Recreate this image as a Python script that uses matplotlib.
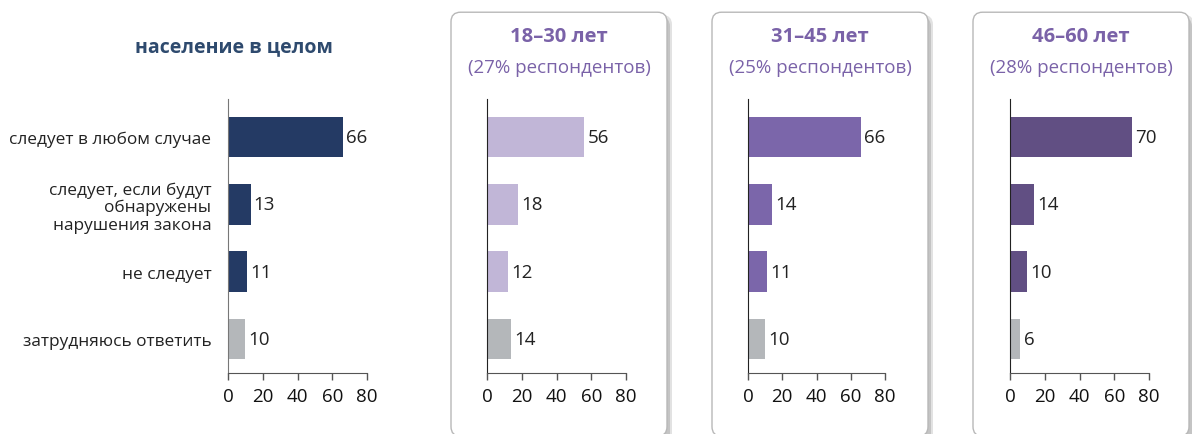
import matplotlib.pyplot as plt
from matplotlib.patches import FancyBboxPatch

plt.rcParams['font.family'] = ['Open Sans', 'DejaVu Sans']

categories = ['следует в любом случае',
              'следует, если будут\nобнаружены\nнарушения закона',
              'не следует',
              'затрудняюсь ответить']
total = [66, 13, 11, 10]
age_18_30 = [56, 18, 12, 14]
age_31_45 = [66, 14, 11, 10]
age_46_60 = [70, 14, 10, 6]

panel_titles = ['население в целом', '18–30 лет', '31–45 лет', '46–60 лет']
panel_shares = [None, '(27% респондентов)', '(25% респондентов)', '(28% респондентов)']
ticks = [0, 20, 40, 60, 80]

main_colors = ['#243a64', '#c1b6d7', '#7b66aa', '#614f83']
gray = '#b4b7ba'

W, H = 1192, 435
fig = plt.figure(figsize=(W / 100, H / 100), dpi=100)

# левые края осей и рамок в пикселях
ax_left = [228, 487, 748, 1010]
ax_width = [139, 139, 137, 139]
box_left = [451, 712, 973]
box_w = 216

for bx in box_left:
    # тень
    for dx, c in [(5, '#e2e2e2'), (3, '#c4c4c4')]:
        shadow = FancyBboxPatch(((bx + dx) / W, -0.03), box_w / W, (H - 8 + dx) / H,
                                boxstyle='round,pad=0,rounding_size=0.008',
                                transform=fig.transFigure, facecolor=c,
                                edgecolor='none', zorder=0, mutation_aspect=W / H)
        fig.patches.append(shadow)
    box = FancyBboxPatch((bx / W, -0.005), box_w / W, (H - 8) / H + 0.005 - 0.012,
                         boxstyle='round,pad=0,rounding_size=0.008',
                         transform=fig.transFigure, facecolor='white',
                         edgecolor='#b8b8b8', linewidth=1.0, zorder=1,
                         mutation_aspect=W / H)
    fig.patches.append(box)

series = [total, age_18_30, age_31_45, age_46_60]
for i, vals in enumerate(series):
    ax = fig.add_axes([ax_left[i] / W, (H - 374) / H, ax_width[i] / W, 274 / H])
    ax.set_zorder(3)
    ax.patch.set_alpha(0)
    colors = [main_colors[i]] * 3 + [gray]
    y = list(range(len(vals)))
    ax.barh(y, vals, height=0.6, color=colors)
    for yy, v in zip(y, vals):
        ax.text(v + 1.8, yy, str(v), va='center', ha='left', fontsize=13.5,
                color='#222222')
    ax.set_xlim(0, 80)
    ax.set_ylim(3.51, -0.57)
    ax.set_xticks(ticks)
    ax.set_xticklabels([str(t) for t in ticks], fontsize=13.5, color='#111111')
    ax.tick_params(axis='x', length=5, width=1, color='#555555', pad=5)
    ax.tick_params(axis='y', length=0)
    for s in ['top', 'right']:
        ax.spines[s].set_visible(False)
    ax.spines['bottom'].set_color('#555555')
    ax.spines['left'].set_color('#777777' if i == 0 else '#222222')
    if i == 0:
        ax.set_yticks(y)
        ax.set_yticklabels(categories, fontsize=12.4, color='#222222',
                           linespacing=1.1)
        ax.tick_params(axis='y', pad=12)
    else:
        ax.set_yticks([])

    if i == 0:
        fig.text(234 / W, 1 - 47 / H, panel_titles[i], ha='center', va='center',
                 fontsize=14, fontweight='bold', color='#2e4a6e')
    else:
        bcx = (box_left[i - 1] + box_w / 2) / W
        fig.text(bcx, 1 - 37 / H, panel_titles[i], ha='center', va='center',
                 fontsize=14.5, fontweight='bold', color='#7a62a8', zorder=5)
        fig.text(bcx, 1 - 68 / H, panel_shares[i], ha='center', va='center',
                 fontsize=13.5, color='#7a62a8', zorder=5)

fig.savefig('out.png', dpi=100)
